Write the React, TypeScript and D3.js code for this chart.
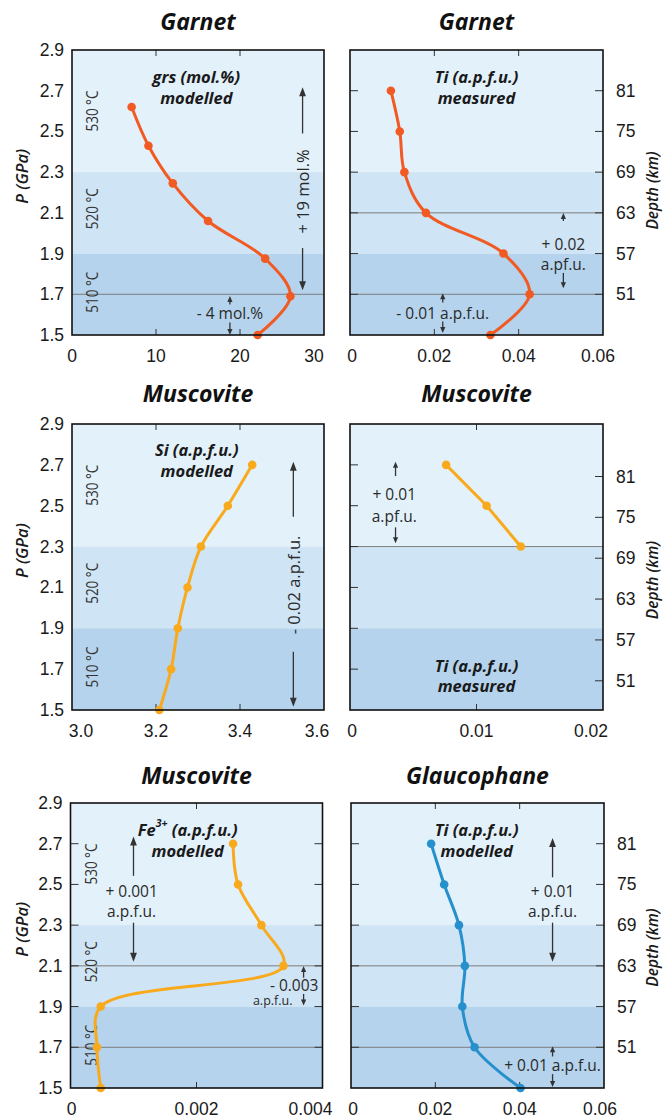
import React from 'react';
import * as d3 from 'd3';

// ---------- data ----------
const P_TICKS = [2.9, 2.7, 2.5, 2.3, 2.1, 1.9, 1.7, 1.5];
const P_TICK_LABELS = ['2.9', '2.7', '2.5', '2.3', '2.1', '1.9', '1.7', '1.5'];
const INNER_P_TICKS = [2.7, 2.5, 2.3, 2.1, 1.9, 1.7];
const DEPTH_TICKS = [81, 75, 69, 63, 57, 51];
const P_LEVELS = [2.7, 2.5, 2.3, 2.1, 1.9, 1.7, 1.5];

const TEMP_BANDS = [
  { label: '530 °C', lo: 2.3, hi: 2.9, labelP: 2.6, fill: '#e3f1fb' },
  { label: '520 °C', lo: 1.9, hi: 2.3, labelP: 2.12, fill: '#cfe4f4' },
  { label: '510 °C', lo: 1.5, hi: 1.9, labelP: 1.71, fill: '#b5d3ec' },
];

// Garnet grossular (mol.%) modelled
const grsP = [2.62, 2.43, 2.245, 2.06, 1.875, 1.69, 1.5];
const grsMol = [7.1, 9.1, 12.0, 16.2, 23.0, 26.0, 22.1];
// Garnet Ti measured
const grtTi = [0.0097, 0.0118, 0.0129, 0.018, 0.0364, 0.0426, 0.0333];
// Muscovite Si modelled
const msSi = [3.429, 3.371, 3.307, 3.275, 3.252, 3.236, 3.208];
// Muscovite Ti measured
const msTiP = [2.7, 2.5, 2.3];
const msTi = [0.0076, 0.0108, 0.0135];
// Muscovite Fe3+ modelled
const msFe3 = [0.00258, 0.00266, 0.00303, 0.00338, 0.00048, 0.00042, 0.00048];
// Glaucophane Ti modelled
const glTi = [0.019, 0.0221, 0.0256, 0.027, 0.0264, 0.0293, 0.0402];

const X_TICKS_GRS = [0, 10, 20, 30];
const X_LABELS_GRS = ['0', '10', '20', '30'];
const X_TICKS_006 = [0, 0.02, 0.04, 0.06];
const X_LABELS_006 = ['0', '0.02', '0.04', '0.06'];
const X_TICKS_SI = [3.0, 3.2, 3.4, 3.6];
const X_LABELS_SI = ['3.0', '3.2', '3.4', '3.6'];
const X_TICKS_002 = [0, 0.01, 0.02];
const X_LABELS_002 = ['0', '0.01', '0.02'];
const X_TICKS_FE = [0, 0.002, 0.004];
const X_LABELS_FE = ['0', '0.002', '0.004'];

// ---------- styles ----------
const W = 663;
const H = 1118;
const SANS = '"Liberation Sans", Arial, sans-serif';
const OPEN = '"Open Sans", "Noto Sans", sans-serif';
const ORANGE = '#f15a22';
const YELLOW = '#f9aa1c';
const BLUE = '#2690cc';
const DARK = '#333333';

type Arrow = { x: number; tail: number; tip: number; small?: boolean };
type Txt = { x: number; p: number; text: string; rotate?: boolean; size?: number };
type Panel = {
  title: string;
  xr: [number, number];
  yr: [number, number];
  xDomain: [number, number];
  xTicks: number[];
  xLabels: string[];
  lastLabelDx: number;
  firstLabelDx: number;
  xs: number[];
  ps: number[];
  color: string;
  curve: any;
  leftAxis: boolean;
  rightAxis: boolean;
  sideTicks: boolean;
  depthShift: number;
  depthLabelP: number;
  refLines: number[];
  inner: { x: number; lines: { p: number; text: string; fe?: boolean }[] };
  arrows: Arrow[];
  texts: Txt[];
  titleGap: number;
};

const COL1: [number, number] = [72, 324];
const COL2: [number, number] = [350, 603];
const ROW1: [number, number] = [50, 335];
const ROW2: [number, number] = [424, 710];
const ROW3: [number, number] = [803, 1088];

const panels: Panel[] = [
  {
    title: 'Garnet', xr: COL1, yr: ROW1, xDomain: [0, 30], xTicks: X_TICKS_GRS, xLabels: X_LABELS_GRS,
    lastLabelDx: -10, firstLabelDx: 0,
    xs: grsMol, ps: grsP, color: ORANGE, curve: d3.curveCatmullRom.alpha(0.5),
    leftAxis: true, rightAxis: false, sideTicks: false, depthShift: 0, depthLabelP: 2.2,
    refLines: [1.7],
    inner: { x: 14.8, lines: [{ p: 2.771, text: 'grs (mol.%)' }, { p: 2.669, text: 'modelled' }] },
    arrows: [
      { x: 27.45, tail: 2.49, tip: 2.717 },
      { x: 27.45, tail: 1.927, tip: 1.72 },
      { x: 18.8, tail: 1.65, tip: 1.692, small: true },
      { x: 18.8, tail: 1.562, tip: 1.5, small: true },
    ],
    texts: [
      { x: 27.45, p: 2.205, text: '+ 19 mol.%', rotate: true },
      { x: 18.8, p: 1.607, text: '- 4 mol.%' },
    ],
    titleGap: 20,
  },
  {
    title: 'Garnet', xr: COL2, yr: ROW1, xDomain: [0, 0.06], xTicks: X_TICKS_006, xLabels: X_LABELS_006,
    lastLabelDx: -5, firstLabelDx: 2,
    xs: grtTi, ps: P_LEVELS, color: ORANGE, curve: d3.curveCatmullRom.alpha(0.5),
    leftAxis: false, rightAxis: true, sideTicks: true, depthShift: 0, depthLabelP: 2.21,
    refLines: [2.1, 1.7],
    inner: { x: 0.030, lines: [{ p: 2.771, text: 'Ti (a.p.f.u.)' }, { p: 2.669, text: 'measured' }] },
    arrows: [
      { x: 0.0506, tail: 2.06, tip: 2.099, small: true },
      { x: 0.0506, tail: 1.805, tip: 1.73, small: true },
      { x: 0.022, tail: 1.66, tip: 1.705, small: true },
      { x: 0.022, tail: 1.566, tip: 1.51, small: true },
    ],
    texts: [
      { x: 0.0506, p: 1.948, text: '+ 0.02' },
      { x: 0.0506, p: 1.848, text: 'a.pf.u.' },
      { x: 0.022, p: 1.607, text: '- 0.01 a.p.f.u.' },
    ],
    titleGap: 20,
  },
  {
    title: 'Muscovite', xr: COL1, yr: ROW2, xDomain: [3.0, 3.6], xTicks: X_TICKS_SI, xLabels: X_LABELS_SI,
    lastLabelDx: -7, firstLabelDx: 9,
    xs: msSi, ps: P_LEVELS, color: YELLOW, curve: d3.curveCatmullRom.alpha(0.5),
    leftAxis: true, rightAxis: false, sideTicks: false, depthShift: 0, depthLabelP: 2.2,
    refLines: [],
    inner: { x: 3.297, lines: [{ p: 2.775, text: 'Si (a.p.f.u.)' }, { p: 2.673, text: 'modelled' }] },
    arrows: [
      { x: 3.527, tail: 2.446, tip: 2.715 },
      { x: 3.527, tail: 1.785, tip: 1.516 },
    ],
    texts: [{ x: 3.527, p: 2.112, text: '- 0.02 a.p.f.u.', rotate: true }],
    titleGap: 22,
  },
  {
    title: 'Muscovite', xr: COL2, yr: ROW2, xDomain: [0, 0.02], xTicks: X_TICKS_002, xLabels: X_LABELS_002,
    lastLabelDx: -12, firstLabelDx: 2,
    xs: msTi, ps: msTiP, color: YELLOW, curve: d3.curveLinear,
    leftAxis: false, rightAxis: true, sideTicks: true, depthShift: -0.057, depthLabelP: 2.136,
    refLines: [2.3],
    inner: { x: 0.01, lines: [{ p: 1.716, text: 'Ti (a.p.f.u.)' }, { p: 1.618, text: 'measured' }] },
    arrows: [
      { x: 0.0036, tail: 2.645, tip: 2.715, small: true },
      { x: 0.0036, tail: 2.394, tip: 2.316, small: true },
    ],
    texts: [
      { x: 0.0035, p: 2.557, text: '+ 0.01' },
      { x: 0.0035, p: 2.45, text: 'a.pf.u.' },
    ],
    titleGap: 22,
  },
  {
    title: 'Muscovite', xr: [70.5, 322.5], yr: ROW3, xDomain: [0, 0.004], xTicks: X_TICKS_FE, xLabels: X_LABELS_FE,
    lastLabelDx: -12, firstLabelDx: 1,
    xs: msFe3, ps: P_LEVELS, color: YELLOW, curve: d3.curveCatmullRom.alpha(0.5),
    leftAxis: true, rightAxis: false, sideTicks: true, depthShift: 0, depthLabelP: 2.2,
    refLines: [2.1, 1.7],
    inner: { x: 0.00186, lines: [{ p: 2.772, text: 'Fe', fe: true }, { p: 2.668, text: 'modelled' }] },
    arrows: [
      { x: 0.001, tail: 2.542, tip: 2.736 },
      { x: 0.001, tail: 2.312, tip: 2.12 },
      { x: 0.0037, tail: 2.042, tip: 2.099, small: true },
      { x: 0.0037, tail: 1.962, tip: 1.905, small: true },
    ],
    texts: [
      { x: 0.00097, p: 2.47, text: '+ 0.001' },
      { x: 0.00097, p: 2.37, text: 'a.p.f.u.' },
      { x: 0.00355, p: 2.004, text: '- 0.003' },
      { x: 0.00321, p: 1.928, text: 'a.p.f.u.', size: 12.5 },
    ],
    titleGap: 19,
  },
  {
    title: 'Glaucophane', xr: [351, 604], yr: ROW3, xDomain: [0, 0.06], xTicks: X_TICKS_006, xLabels: X_LABELS_006,
    lastLabelDx: -4, firstLabelDx: 2,
    xs: glTi, ps: P_LEVELS, color: BLUE, curve: d3.curveCatmullRom.alpha(0.5),
    leftAxis: false, rightAxis: true, sideTicks: true, depthShift: 0, depthLabelP: 2.19,
    refLines: [2.1, 1.7],
    inner: { x: 0.0298, lines: [{ p: 2.772, text: 'Ti (a.p.f.u.)' }, { p: 2.668, text: 'modelled' }] },
    arrows: [
      { x: 0.0478, tail: 2.535, tip: 2.728 },
      { x: 0.0478, tail: 2.312, tip: 2.12 },
      { x: 0.0478, tail: 1.655, tip: 1.705, small: true },
      { x: 0.0478, tail: 1.568, tip: 1.505, small: true },
    ],
    texts: [
      { x: 0.0478, p: 2.47, text: '+ 0.01' },
      { x: 0.0478, p: 2.37, text: 'a.p.f.u.' },
      { x: 0.0478, p: 1.612, text: '+ 0.01 a.p.f.u.' },
    ],
    titleGap: 19,
  },
];

function ArrowMark({ x, y1, y2, small }: { x: number; y1: number; y2: number; small?: boolean }) {
  const dir = y2 < y1 ? -1 : 1;
  const hl = small ? 6 : 9;
  const hw = small ? 2.6 : 3.4;
  const base = y2 - dir * hl;
  return (
    <g>
      <line x1={x} x2={x} y1={y1} y2={base + dir * 1} stroke={DARK} strokeWidth={1.3} />
      <path d={`M${x},${y2} L${x - hw},${base} L${x + hw},${base} Z`} fill={DARK} />
    </g>
  );
}

function PanelView({ pn }: { pn: Panel }) {
  const x = d3.scaleLinear().domain(pn.xDomain).range(pn.xr);
  const y = d3.scaleLinear().domain([1.5, 2.9]).range([pn.yr[1], pn.yr[0]]);
  const [x0, x1] = pn.xr;
  const [yt, yb] = pn.yr;
  const pts: [number, number][] = pn.xs.map((v, i) => [x(v), y(pn.ps[i])]);
  const line = d3.line().curve(pn.curve)(pts) || '';
  const innerTicks = pn.xTicks.filter((t) => t > pn.xDomain[0] && t < pn.xDomain[1]);
  const cx = (x0 + x1) / 2;
  return (
    <g>
      {TEMP_BANDS.map((b) => (
        <rect key={b.label} x={x0} width={x1 - x0} y={y(b.hi)} height={y(b.lo) - y(b.hi)} fill={b.fill} />
      ))}
      {pn.refLines.map((p) => (
        <line key={p} x1={x0} x2={x1} y1={y(p)} y2={y(p)} stroke="#7d7d7d" strokeWidth={1} />
      ))}
      {/* ticks */}
      {innerTicks.map((t) => (
        <g key={t}>
          <line x1={x(t)} x2={x(t)} y1={yt} y2={yt + 6} stroke="#333" strokeWidth={1} />
          <line x1={x(t)} x2={x(t)} y1={yb} y2={yb - 6} stroke="#333" strokeWidth={1} />
        </g>
      ))}
      {pn.sideTicks && INNER_P_TICKS.map((p) => (
        <line key={'l' + p} x1={x0} x2={x0 + 8} y1={y(p)} y2={y(p)} stroke="#333" strokeWidth={1} />
      ))}
      {pn.sideTicks && (pn.rightAxis ? DEPTH_TICKS.map((d) => d / 30 + pn.depthShift) : INNER_P_TICKS).map((p) => (
        <line key={'r' + p} x1={x1} x2={x1 - 8} y1={y(p)} y2={y(p)} stroke="#333" strokeWidth={1} />
      ))}
      {/* temperature labels */}
      {pn.leftAxis && TEMP_BANDS.map((b) => (
        <text key={'t' + b.label} transform={`translate(${x0 + 19.5},${y(b.labelP)}) rotate(-90)`} textAnchor="middle"
          dominantBaseline="central" fontFamily={OPEN} fontSize={17} fill="#333" textLength={41} lengthAdjust="spacingAndGlyphs">
          {b.label}
        </text>
      ))}
      {/* inner label */}
      {pn.inner.lines.map((l, i) => (
        <text key={'in' + i} x={x(pn.inner.x)} y={y(l.p)} textAnchor="middle" dominantBaseline="central"
          fontFamily={OPEN} fontStyle="italic" fontWeight={700} fontSize={16.5} fill="#1a1a1a">
          {l.fe ? (
            <>
              <tspan>Fe</tspan>
              <tspan fontSize={10.5} dy={-6}>3+</tspan>
              <tspan dy={6}> (a.p.f.u.)</tspan>
            </>
          ) : l.text}
        </text>
      ))}
      {/* annotation arrows */}
      {pn.arrows.map((a, i) => (
        <ArrowMark key={'a' + i} x={x(a.x)} y1={y(a.tail)} y2={y(a.tip)} small={a.small} />
      ))}
      {pn.texts.map((t, i) => t.rotate ? (
        <text key={'x' + i} transform={`translate(${x(t.x)},${y(t.p)}) rotate(-90)`} textAnchor="middle" dominantBaseline="central"
          fontFamily={OPEN} fontSize={t.size || 16.5} fill="#2a2a2a">{t.text}</text>
      ) : (
        <text key={'x' + i} x={x(t.x)} y={y(t.p)} textAnchor="middle" dominantBaseline="central"
          fontFamily={OPEN} fontSize={t.size || 15.5} fill="#2a2a2a">{t.text}</text>
      ))}
      {/* data line */}
      <path d={line} fill="none" stroke={pn.color} strokeWidth={3} strokeLinejoin="round" strokeLinecap="round" />
      {pts.map((p, i) => (
        <circle key={'c' + i} cx={p[0]} cy={p[1]} r={4.3} fill={pn.color} />
      ))}
      {/* frame */}
      <rect x={x0} y={yt} width={x1 - x0} height={yb - yt} fill="none" stroke="#111" strokeWidth={1.6} />
      {/* x tick labels */}
      {pn.xTicks.map((t, i) => (
        <text key={'xl' + t} x={x(t) + (i === pn.xTicks.length - 1 ? pn.lastLabelDx : i === 0 ? pn.firstLabelDx : 0)} y={yb + 27}
          textAnchor="middle" fontFamily={SANS} fontSize={17.5} fill="#1a1a1a">{pn.xLabels[i]}</text>
      ))}
      {/* left axis */}
      {pn.leftAxis && P_TICKS.map((p, i) => (
        <text key={'yl' + p} x={x0 - 8} y={y(p)} textAnchor="end" dominantBaseline="central" fontFamily={SANS} fontSize={17.5} fill="#1a1a1a">
          {P_TICK_LABELS[i]}
        </text>
      ))}
      {pn.leftAxis && (
        <text transform={`translate(21,${y(2.28)}) rotate(-90)`} textAnchor="middle" dominantBaseline="central"
          fontFamily={OPEN} fontStyle="italic" fontWeight={600} fontSize={16.5} fill="#1a1a1a">P (GPa)</text>
      )}
      {/* right axis */}
      {pn.rightAxis && DEPTH_TICKS.map((d) => (
        <text key={'dl' + d} x={x1 + 13} y={y(d / 30 + pn.depthShift)} textAnchor="start" dominantBaseline="central"
          fontFamily={SANS} fontSize={17.5} fill="#1a1a1a">{d}</text>
      ))}
      {pn.rightAxis && (
        <text transform={`translate(652,${y(pn.depthLabelP)}) rotate(-90)`} textAnchor="middle" dominantBaseline="central"
          fontFamily={OPEN} fontStyle="italic" fontWeight={600} fontSize={15.5} fill="#1a1a1a">Depth (km)</text>
      )}
      {/* title */}
      <text x={cx} y={yt - pn.titleGap} textAnchor="middle" fontFamily={OPEN} fontStyle="italic" fontWeight={700}
        fontSize={23} fill="#111">{pn.title}</text>
    </g>
  );
}

export default function App() {
  return (
    <svg width={W} height={H} style={{ position: 'absolute', left: 0, top: 0, background: '#fff' }}>
      <rect width={W} height={H} fill="#fff" />
      {panels.map((pn, i) => (
        <PanelView key={i} pn={pn} />
      ))}
    </svg>
  );
}
